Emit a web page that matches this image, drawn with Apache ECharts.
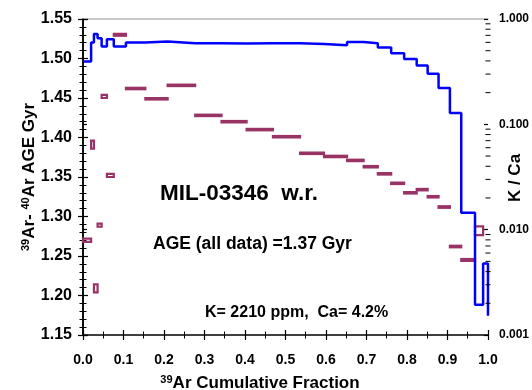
<!DOCTYPE html>
<html><head><meta charset="utf-8">
<script src="https://cdn.jsdelivr.net/npm/echarts@6/dist/echarts.min.js"></script>
<style>html,body{margin:0;padding:0;background:#fff}#c{width:532px;height:390px}</style>
</head><body><div id="c"></div>
<script>
// cumulative 39Ar fraction step edges
const stepEdges = [0, 0.020, 0.027, 0.036, 0.046, 0.059, 0.076, 0.106, 0.154, 0.209, 0.277, 0.342, 0.404, 0.469, 0.536, 0.595, 0.652, 0.693, 0.728, 0.761, 0.793, 0.824, 0.851, 0.878, 0.906, 0.934, 0.968, 0.988, 1.0];
// 39Ar-40Ar age (Gyr) per step (null = off scale)
const ages = [1.270, 1.391, 1.209, 1.289, 1.452, 1.352, 1.530, 1.462, 1.449, 1.466, 1.428, 1.420, 1.410, 1.401, 1.380, 1.376, 1.371, 1.363, 1.354, 1.342, 1.330, 1.334, 1.325, 1.312, 1.262, 1.245, 1.282, null];
// half-height of age error box (Gyr)
const ageErr = [0.002, 0.005, 0.005, 0.002, 0.002, 0.002, 0.0012, 0.0009, 0.0009, 0.0009, 0.0009, 0.0009, 0.0009, 0.0009, 0.0009, 0.0009, 0.0009, 0.0009, 0.0009, 0.0009, 0.0009, 0.0009, 0.0009, 0.0010, 0.0010, 0.0012, 0.0055, 0];
// K/Ca per step
const kca = [0.394, 0.597, 0.721, 0.656, 0.547, 0.643, 0.547, 0.597, 0.610, 0.589, 0.589, 0.585, 0.589, 0.589, 0.580, 0.564, 0.606, 0.589, 0.535, 0.473, 0.416, 0.361, 0.302, 0.221, 0.128, 0.0145, 0.00194, 0.00477];
const kcaEnd = 0.00152;
// tick labels / minor ticks
const xTicks = ['0.0','0.1','0.2','0.3','0.4','0.5','0.6','0.7','0.8','0.9','1.0'];
const kcaMinorTicks = [0.002,0.003,0.004,0.005,0.006,0.007,0.008,0.009,0.02,0.03,0.04,0.05,0.06,0.07,0.08,0.09,0.2,0.3,0.4,0.5,0.6,0.7,0.8,0.9];

const F = '"Liberation Sans", Arial, sans-serif';
const boxData = [];
for (let i = 0; i < ages.length; i++) {
  if (ages[i] == null) continue;
  boxData.push([stepEdges[i], stepEdges[i+1], ages[i], ageErr[i]]);
}
const lineData = [];
for (let i = 0; i < kca.length; i++) lineData.push([stepEdges[i], kca[i]]);
lineData.push([stepEdges[stepEdges.length-1], kca[kca.length-1]]);
lineData.push([stepEdges[stepEdges.length-1], kcaEnd]);

const chart = echarts.init(document.getElementById('c'), null, {renderer:'canvas'});
const black = {color:'#000', width:1.5};
const baseX = {type:'value', min:0, max:1, interval:0.1, splitLine:{show:false}};
const baseY = {type:'value', min:1.15, max:1.55, interval:0.05, splitLine:{show:false}};
const baseR = {type:'log', logBase:10, min:0.001, max:1, splitNumber:3, splitLine:{show:false}, position:'right'};
chart.setOption({
  animation:false,
  backgroundColor:'#fff',
  grid:{left:83, right:43, top:19, bottom:55, containLabel:false},
  xAxis:[
    Object.assign({}, baseX, {position:'bottom', axisLine:{lineStyle:black},
      axisTick:{inside:false, length:5, lineStyle:{color:'#000', width:1.2}},
      minorTick:{show:true, splitNumber:2, length:3.5, lineStyle:{color:'#000', width:1}},
      axisLabel:{margin:18, fontSize:14, fontWeight:'bold', fontFamily:F, color:'#000',
        formatter:(v)=>xTicks[Math.round(v*10)]}}),
    Object.assign({}, baseX, {position:'bottom', axisLine:{show:false},
      axisTick:{inside:true, length:5, lineStyle:{color:'#000', width:1.2}},
      minorTick:{show:true, splitNumber:2, length:3.5, lineStyle:{color:'#000', width:1}},
      axisLabel:{show:false}}),
    Object.assign({}, baseX, {position:'top', axisLine:{lineStyle:{color:'#b8b8b8', width:1.5}},
      axisTick:{show:false}, axisLabel:{show:false}})
  ],
  yAxis:[
    Object.assign({}, baseY, {position:'left', axisLine:{lineStyle:black},
      axisTick:{inside:false, length:5, lineStyle:{color:'#000', width:1.2}},
      minorTick:{show:true, splitNumber:5, length:3.5, lineStyle:{color:'#000', width:1}},
      axisLabel:{margin:11, fontSize:16, fontWeight:'bold', fontFamily:F, color:'#000',
        formatter:(v)=>v.toFixed(2)}}),
    Object.assign({}, baseY, {position:'left', axisLine:{show:false},
      axisTick:{inside:true, length:5, lineStyle:{color:'#000', width:1.2}},
      minorTick:{show:true, splitNumber:5, length:3.5, lineStyle:{color:'#000', width:1}},
      axisLabel:{show:false}}),
    Object.assign({}, baseR, {axisLine:{lineStyle:black},
      axisTick:{inside:false, length:4, lineStyle:{color:'#000', width:1.2}},
      axisLabel:{margin:11, fontSize:12, fontWeight:'bold', fontFamily:F, color:'#000',
        formatter:(v)=>Number(v).toFixed(3)}}),
    Object.assign({}, baseR, {axisLine:{show:false},
      axisTick:{inside:true, length:4, lineStyle:{color:'#000', width:1.2}},
      axisLabel:{show:false}})
  ],
  series:[
    {
      type:'custom', name:'age', xAxisIndex:0, yAxisIndex:0, clip:false, z:3,
      data:boxData, encode:{x:[0,1], y:2},
      renderItem:function(params, api){
        const a = api.value(2), e = api.value(3);
        const p0 = api.coord([api.value(0), a+e]);
        const p1 = api.coord([api.value(1), a-e]);
        return {type:'rect', shape:{x:p0[0], y:p0[1], width:p1[0]-p0[0], height:p1[1]-p0[1]},
          style:{fill:'none', stroke:'#993366', lineWidth:2.2}};
      }
    },
    {
      type:'line', name:'K/Ca', xAxisIndex:0, yAxisIndex:2, step:'end', symbol:'none', clip:false, z:4,
      data:lineData, lineStyle:{color:'#0000ff', width:2.5}
    },
    {
      type:'custom', name:'kcaMinor', xAxisIndex:0, yAxisIndex:2, clip:false, silent:true, z:5,
      data:kcaMinorTicks.map(v=>[1, v]),
      renderItem:function(params, api){
        const p = api.coord([api.value(0), api.value(1)]);
        return {type:'line', shape:{x1:p[0]-2.5, y1:p[1], x2:p[0]+2.5, y2:p[1]},
          style:{stroke:'#000', lineWidth:1}};
      }
    }
  ],
  graphic:[
    {type:'text', x:29, y:177, rotation:Math.PI/2, style:{
      text:'{s|39}{b|Ar- }{s|40}{b|Ar AGE Gyr}', align:'center', verticalAlign:'middle',
      rich:{b:{fontSize:17, fontWeight:'bold', fontFamily:F, fill:'#000'},
            s:{fontSize:11, fontWeight:'bold', fontFamily:F, fill:'#000', verticalAlign:'top'}}}},
    {type:'text', x:515, y:178, rotation:Math.PI/2, style:{
      text:'K / Ca', align:'center', verticalAlign:'middle', fontSize:17, fontWeight:'bold', fontFamily:F, fill:'#000'}},
    {type:'text', x:260, y:383, style:{
      text:'{s|39}{b|Ar Cumulative Fraction}', align:'center', verticalAlign:'middle',
      rich:{b:{fontSize:17, fontWeight:'bold', fontFamily:F, fill:'#000'},
            s:{fontSize:11, fontWeight:'bold', fontFamily:F, fill:'#000', verticalAlign:'top'}}}},
    {type:'text', x:160, y:194, style:{text:'MIL-03346  w.r.', align:'left', verticalAlign:'middle',
      fontSize:22.5, fontWeight:'bold', fontFamily:F, fill:'#000'}},
    {type:'text', x:153, y:244, style:{text:'AGE (all data) =1.37 Gyr', align:'left', verticalAlign:'middle',
      fontSize:17.5, fontWeight:'bold', fontFamily:F, fill:'#000'}},
    {type:'text', x:205, y:313, style:{text:'K= 2210 ppm,  Ca= 4.2%', align:'left', verticalAlign:'middle',
      fontSize:16, fontWeight:'bold', fontFamily:F, fill:'#000'}}
  ]
});
</script></body></html>
